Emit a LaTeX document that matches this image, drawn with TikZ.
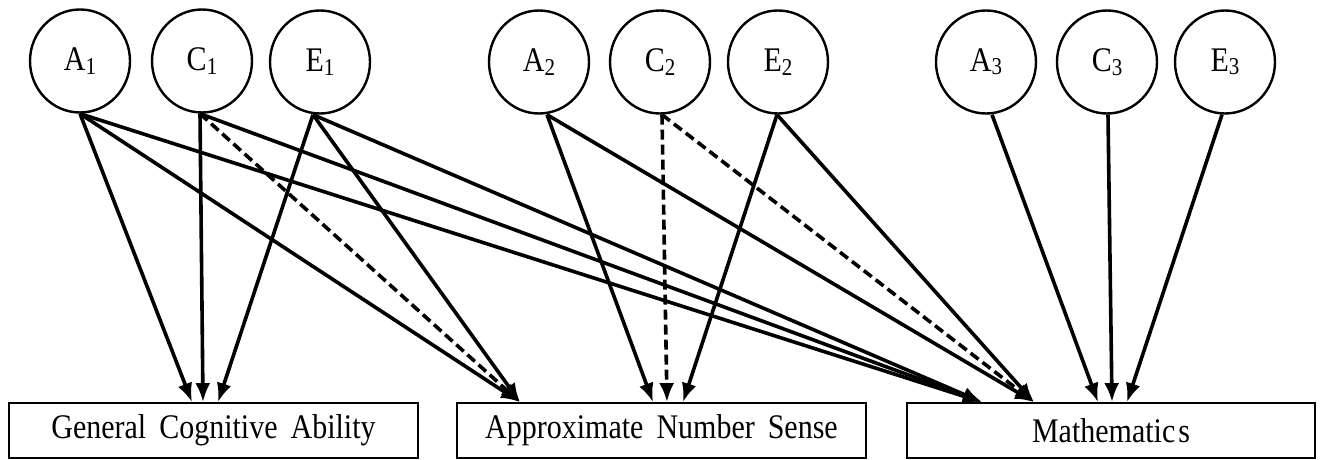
\documentclass[tikz,border=0pt]{standalone}
\usepackage{graphicx}
\usepackage{fontspec}
\setmainfont{Liberation Serif}
\usetikzlibrary{arrows.meta,shapes.geometric}
\newcommand\tx[1]{\scalebox{1}[1.15]{#1}}
\newcommand\lab[2]{\tx{#1\raisebox{-3pt}{\fontsize{21}{21}\selectfont #2}}}
\begin{document}
\begin{tikzpicture}[x=1pt,y=-1pt,
  latent/.style={ellipse,draw,line width=2.4pt,minimum width=100pt,minimum height=103pt,inner sep=0pt,font=\fontsize{30}{31}\selectfont},
  observed/.style={rectangle,draw,line width=1.8pt,minimum width=409pt,minimum height=55pt,inner sep=0pt,font=\fontsize{30}{31}\selectfont},
  effect/.style={line width=3.6pt,-{Latex[length=19pt,width=15pt]}},
  effectdash/.style={effect,dash pattern=on 10pt off 5pt}]
\useasboundingbox (0,0) rectangle (1323,460);
% latent factors
\node[latent] (A1) at (80,61) {\lab{A}{1}};
\node[latent] (C1) at (202,61) {\lab{C}{1}};
\node[latent] (E1) at (320,62) {\lab{E}{1}};
\node[latent] (A2) at (539,62) {\lab{A}{2}};
\node[latent] (C2) at (660,62) {\lab{C}{2}};
\node[latent] (E2) at (778,62) {\lab{E}{2}};
\node[latent] (A3) at (986,62) {\lab{A}{3}};
\node[latent] (C3) at (1107,62) {\lab{C}{3}};
\node[latent] (E3) at (1225,62) {\lab{E}{3}};
% observed
\node[observed] (G) at (213.5,430.5) {\tx{General\hspace{13pt}Cognitive\hspace{13pt}Ability}};
\node[observed] (N) at (661.5,430.5) {\tx{Approximate\hspace{13pt}Number\hspace{13pt}Sense}};
\node[observed,minimum width=408pt] (M) at (1111,430.5) {\tx{Mathematic\hspace{3pt}s}};
% paths from trait 1
\draw[effect] (A1.south) -- ([xshift=-21.5pt]G.north);
\draw[effect] (A1.south) -- ([xshift=-141.5pt]N.north);
\draw[effect] (A1.south) -- ([xshift=-129pt]M.north);
\draw[effect] ([xshift=-2pt]C1.south) -- ([xshift=-10.5pt]G.north);
\draw[effectdash] ([xshift=-2pt]C1.south) -- ([xshift=-141.5pt]N.north);
\draw[effect] ([xshift=-2pt]C1.south) -- ([xshift=-129pt]M.north);
\draw[effect] ([xshift=-7pt]E1.south) -- ([xshift=4.5pt]G.north);
\draw[effect] ([xshift=-7pt]E1.south) -- ([xshift=-141.5pt]N.north);
\draw[effect] ([xshift=-7pt]E1.south) -- ([xshift=-129pt]M.north);
% paths from trait 2
\draw[effect] ([xshift=8pt]A2.south) -- ([xshift=-8.5pt]N.north);
\draw[effect] ([xshift=8pt]A2.south) -- ([xshift=-77pt]M.north);
\draw[effectdash] ([xshift=2pt]C2.south) -- ([xshift=5.5pt]N.north);
\draw[effectdash] ([xshift=2pt]C2.south) -- ([xshift=-77pt]M.north);
\draw[effect] ([xshift=-1pt]E2.south) -- ([xshift=21.5pt]N.north);
\draw[effect] ([xshift=-1pt]E2.south) -- ([xshift=-77pt]M.north);
% paths from trait 3
\draw[effect] ([xshift=6pt]A3.south) -- ([xshift=-13pt]M.north);
\draw[effect] ([xshift=1pt]C3.south) -- ([xshift=1pt]M.north);
\draw[effect] ([xshift=-3pt]E3.south) -- ([xshift=16pt]M.north);
\end{tikzpicture}
\end{document}
